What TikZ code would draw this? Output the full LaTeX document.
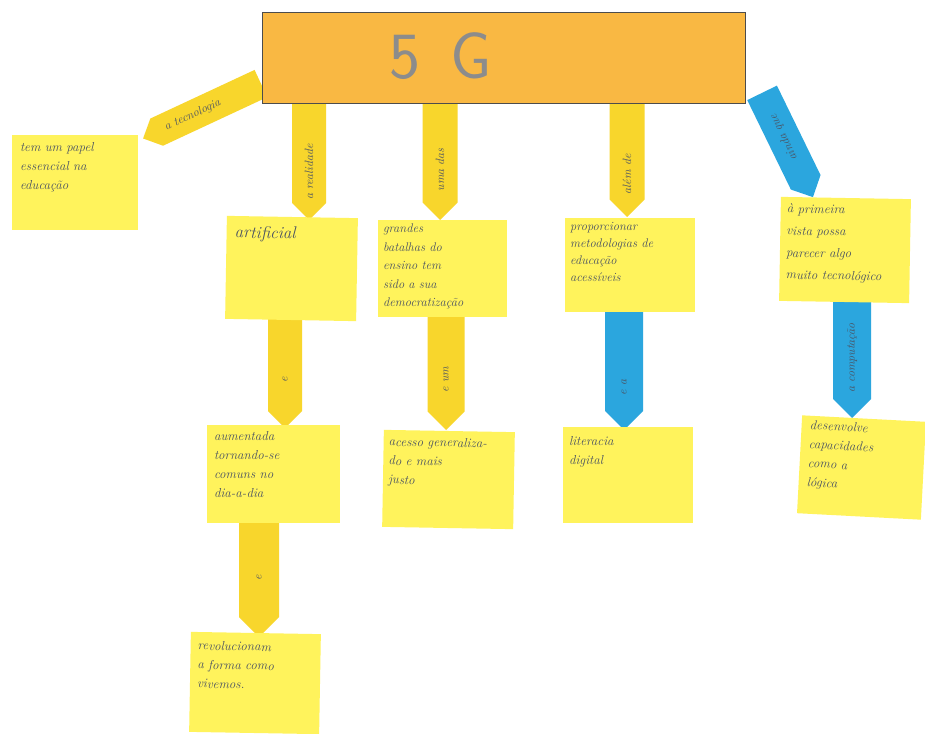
\documentclass[tikz,border=0pt]{standalone}
\definecolor{notey}{HTML}{FFF35C}
\definecolor{arry}{HTML}{F8D62C}
\definecolor{boxo}{HTML}{F9B843}
\definecolor{arrb}{HTML}{2BA6DE}
\definecolor{ink}{HTML}{4A5262}
\tikzset{
  note/.style={fill=notey, inner sep=0pt},
  ntext/.style={anchor=north west, align=left, text width=#1, font=\itshape\fontsize{13}{19}\selectfont, text=ink, inner sep=0pt},
  tagtext/.style={inner sep=0pt, font=\itshape\fontsize{12}{14}\selectfont, text=ink},
}
% name, cx, cy, angle, length, width, colour, text, text offset toward the tip
\newcommand{\mytag}[9]{%
  \pgfmathsetmacro\taghl{#5/2}%
  \pgfmathsetmacro\taghw{#6/2}%
  \pgfmathsetmacro\tagsb{-#5/2+#6/2}%
  \pgfmathsetmacro\tagmid{#6/4-#9}%
  \begin{scope}[shift={(#2,#3)}, rotate=#4]
    \fill[#7] (-\taghl pt,0pt) -- (\tagsb pt,\taghw pt) -- (\taghl pt,\taghw pt)
      -- (\taghl pt,-\taghw pt) -- (\tagsb pt,-\taghw pt) -- cycle;
    \node[tagtext] (#1) at (\tagmid pt,0pt) {\rotatebox{#4}{#8}};
  \end{scope}}
\begin{document}
\begin{tikzpicture}[x=1pt,y=-1pt]
\useasboundingbox[fill=white] (0,0) rectangle (925,733);

% connector tags
\mytag{t1}{202}{111}{25}{130}{30}{arry}{a tecnologia}{18}
\mytag{t2}{309}{157.5}{90}{125}{34}{arry}{a realidade}{23}
\mytag{t3}{440}{157.5}{90}{125}{35}{arry}{uma das}{21}
\mytag{t4}{627}{156}{90}{122}{35}{arry}{além de}{27}
\mytag{t5}{787.5}{145}{116}{116}{33}{arrb}{ainda que}{0}
\mytag{t6}{285}{370}{90}{116}{34}{arry}{e}{18}
\mytag{t7}{446}{371}{90}{118}{37}{arry}{e um}{18}
\mytag{t8}{624}{370}{90}{120}{38}{arrb}{e a}{27}
\mytag{t9}{852}{357.5}{90}{121}{38}{arrb}{a computação}{10}
\mytag{t10}{259}{577.5}{90}{119}{40}{arry}{e}{10}

% central box
\node[fill=boxo, draw=black!70, line width=0.8pt, minimum width=483pt, minimum height=91pt, inner sep=0pt] (g) at (503.5,57.5) {};
\node[font=\sffamily\fontsize{66}{66}\selectfont, text=black!45, inner sep=0pt] (gt) at (441,56) {5\hspace{30pt}G};

% notes
\node[note, minimum width=126pt, minimum height=95pt] (n0) at (75,182.5) {};
\node[ntext=120pt] at ([shift={(8pt,-7pt)}]n0.north west) {tem um papel\\essencial na\\educação};

\node[note, minimum width=131pt, minimum height=103pt, rotate=-1] (n1) at (291.5,268.5) {};
\node[ntext=120pt, font=\itshape\fontsize{17}{20}\selectfont, rotate=-1] at ([shift={(8pt,-10pt)}]n1.north west) {artificial};

\node[note, minimum width=129pt, minimum height=97pt] (n2) at (442.5,268.5) {};
\node[ntext=125pt, font=\itshape\fontsize{12.5}{18.5}\selectfont] at ([shift={(5pt,-4pt)}]n2.north west) {grandes\\batalhas do\\ensino tem\\sido a sua\\democratização};

\node[note, minimum width=130pt, minimum height=94pt] (n3) at (630,265) {};
\node[ntext=126pt, font=\itshape\fontsize{12.5}{17}\selectfont] at ([shift={(5pt,-4pt)}]n3.north west) {proporcionar\\metodologias de\\educação\\acessíveis};

\node[note, minimum width=130pt, minimum height=104pt, rotate=-1] (n4) at (845,250) {};
\node[ntext=126pt, font=\itshape\fontsize{13}{22}\selectfont, rotate=-1] at ([shift={(6pt,-7pt)}]n4.north west) {à primeira\\vista possa\\parecer algo\\muito tecnológico};

\node[note, minimum width=133pt, minimum height=98pt] (n5) at (273.5,474) {};
\node[ntext=126pt] at ([shift={(7pt,-6pt)}]n5.north west) {aumentada\\tornando-se\\comuns no\\dia-a-dia};

\node[note, minimum width=131pt, minimum height=97pt, rotate=-1] (n6) at (448.5,479.5) {};
\node[ntext=128pt, rotate=-1] at ([shift={(5pt,-7pt)}]n6.north west) {acesso generaliza-\\do e mais\\justo};

\node[note, minimum width=130pt, minimum height=96pt] (n7) at (628,475) {};
\node[ntext=124pt] at ([shift={(6pt,-9pt)}]n7.north west) {literacia\\digital};

\node[note, minimum width=124pt, minimum height=98pt, rotate=-3] (n8) at (861.5,467.5) {};
\node[ntext=118pt, rotate=-3] at ([shift={(8pt,-5pt)}]n8.north west) {desenvolve\\capacidades\\como a\\lógica};

\node[note, minimum width=130pt, minimum height=100pt, rotate=-1] (n9) at (255,683) {};
\node[ntext=124pt, rotate=-1] at ([shift={(7pt,-9pt)}]n9.north west) {revolucionam\\a forma como\\vivemos.};
\end{tikzpicture}
\end{document}
